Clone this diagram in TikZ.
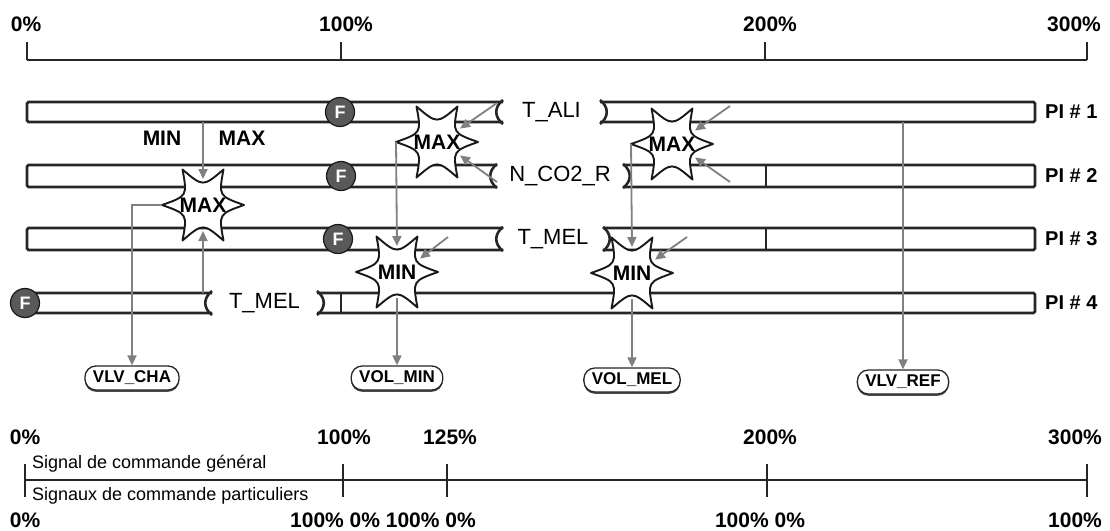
\documentclass[tikz,border=0pt]{standalone}
\usepackage{fontspec}
\setmainfont{Liberation Sans}
\usetikzlibrary{arrows.meta,calc,shadows}
\newcommand{\fsz}[1]{\fontsize{#1}{#1}\selectfont}
\newcommand{\sixstar}[4]{%
  \begin{scope}[shift={(#2,#3)}]
    \draw[starline] (41,0) .. controls (15.6,-9) .. (20.5,-35.5)
      .. controls (0,-18) .. (-20.5,-35.5)
      .. controls (-15.6,-9) .. (-41,0)
      .. controls (-15.6,9) .. (-20.5,35.5)
      .. controls (0,18) .. (20.5,35.5)
      .. controls (15.6,9) .. (41,0) -- cycle;
    \node[startxt] (#1) at (0,0) {#4};
    \coordinate (#1-t) at (0,-26);
    \coordinate (#1-b) at (0,26);
    \coordinate (#1-l) at (-41,0);
    \coordinate (#1-ur) at (23,-13.4);
    \coordinate (#1-lr) at (23,13.4);
  \end{scope}}
\newcommand{\siglabel}[5]{%
  \node[siglbl] (#1) at ({(#2+#3)/2},#4) {#5};
  \draw[barline] (#2,#4-12) .. controls (#2-9,#4-5) and (#2-9,#4+5) .. (#2,#4+12);
  \draw[barline] (#3,#4-12) .. controls (#3+9,#4-5) and (#3+9,#4+5) .. (#3,#4+12);}
\begin{document}
\begin{tikzpicture}[x=1pt,y=-1pt,
  barline/.style={draw=black!85,line width=2.6pt,rounded corners=1.5pt},
  scaleline/.style={draw=black!85,line width=2.2pt},
  starline/.style={draw=black!90,line width=1.9pt,fill=white,line join=round},
  startxt/.style={font=\bfseries\fsz{21},inner sep=0pt},
  siglbl/.style={font=\fsz{22},inner sep=0pt},
  fcirc/.style={circle,fill=black!65,draw=black!90,line width=1.2pt,minimum size=29pt,inner sep=0pt,text=white,font=\bfseries\fsz{18}},
  sigarrow/.style={draw=black!50,line width=1.8pt,-{Triangle[length=10pt,width=9pt]}},
  outlbl/.style={draw=black!85,line width=1.3pt,rounded corners=11pt,font=\bfseries\fsz{17},minimum height=24pt,inner xsep=8pt,inner ysep=0pt,fill=white,drop shadow={shadow xshift=0pt,shadow yshift=-1.8pt,fill=black!70,opacity=1}},
  pct/.style={font=\bfseries\fsz{21},inner sep=0pt},
  pilbl/.style={font=\bfseries\fsz{20},inner sep=0pt,anchor=west},
  small/.style={font=\fsz{18},inner sep=0pt,anchor=west}]
\useasboundingbox (0,0) rectangle (1110,530);

% ---------- top scale ----------
\node[pct] (t0) at (26,24) {0\%};
\node[pct] (t100) at (346,24) {100\%};
\node[pct] (t200) at (770,24) {200\%};
\node[pct] (t300) at (1074,24) {300\%};
\draw[scaleline] (27,60) -- (1087,60);
\foreach \x in {27,341,765,1087} \draw[scaleline] (\x,42) -- (\x,60);

% ---------- bars ----------
% PI 1
\draw[barline] (503,102) -- (27,102) -- (27,122) -- (503,122);
\draw[barline] (600,102) -- (1035,102) -- (1035,122) -- (600,122);
\siglabel{tali}{503}{600}{112}{T\_ALI}
% PI 2
\draw[barline] (497,165) -- (27,165) -- (27,187) -- (497,187);
\draw[barline] (623,165) -- (1035,165) -- (1035,187) -- (623,187);
\draw[barline] (766,165) -- (766,187);
\siglabel{nco2}{497}{623}{176}{N\_CO2\_R}
% PI 3
\draw[barline] (503,228) -- (27,228) -- (27,250) -- (503,250);
\draw[barline] (603,228) -- (1035,228) -- (1035,250) -- (603,250);
\draw[barline] (766,228) -- (766,250);
\siglabel{tmelc}{503}{603}{239}{T\_MEL}
% PI 4
\draw[barline] (212,293) -- (27,293) -- (27,313) -- (212,313);
\draw[barline] (317,293) -- (1035,293) -- (1035,313) -- (317,313);
\draw[barline] (341,293) -- (341,313);
\siglabel{tmeld}{212}{317}{303}{T\_MEL}

\node[pilbl] (pi1) at (1045,112) {PI \# 1};
\node[pilbl] (pi2) at (1045,176) {PI \# 2};
\node[pilbl] (pi3) at (1045,239) {PI \# 3};
\node[pilbl] (pi4) at (1045,303) {PI \# 4};

\node[fcirc] (f1) at (340,112) {F};
\node[fcirc] (f2) at (341,176) {F};
\node[fcirc] (f3) at (338,239) {F};
\node[fcirc] (f4) at (25,303) {F};

% ---------- output labels ----------
\node[outlbl] (vlvcha) at (132,378) {VLV\_CHA};
\node[outlbl] (volmin) at (397,378) {VOL\_MIN};
\node[outlbl] (volmel) at (632,380) {VOL\_MEL};
\node[outlbl] (vlvref) at (903,382) {VLV\_REF};

% ---------- connector under stars ----------
\coordinate (p1b) at (903,122);
\draw[sigarrow] (p1b) -- (vlvref.north);

% ---------- stars ----------
\sixstar{max1}{203}{205}{MAX}
\sixstar{max2}{437}{142}{MAX}
\sixstar{max3}{672}{144}{MAX}
\sixstar{min1}{397}{272}{MIN}
\sixstar{min2}{632}{273}{MIN}

\node[startxt] (lmin) at (162,138) {MIN};
\node[startxt] (lmax) at (242,138) {MAX};

% ---------- connectors ----------
\coordinate (p1a) at (203,122);
\coordinate (p4a) at (203,293);
\draw[sigarrow] (p1a) -- (max1-t);
\draw[sigarrow] (p4a) -- (max1-b);
\draw[sigarrow] (max1-l) -| (vlvcha.north);
\draw[sigarrow] (max2-l) -- (min1-t);
\draw[sigarrow] (min1-b) -- (volmin.north);
\draw[sigarrow] (max3-l) -- (min2-t);
\draw[sigarrow] (min2-b) -- (volmel.north);

\coordinate (a1) at (497,103);
\coordinate (a2) at (497,182);
\coordinate (a3) at (730,106);
\coordinate (a4) at (730,182);
\coordinate (a5) at (448,237);
\coordinate (a6) at (687,237);
\draw[sigarrow] (a1) -- (max2-ur);
\draw[sigarrow] (a2) -- (max2-lr);
\draw[sigarrow] (a3) -- (max3-ur);
\draw[sigarrow] (a4) -- (max3-lr);
\draw[sigarrow] (a5) -- (min1-ur);
\draw[sigarrow] (a6) -- (min2-ur);

% ---------- bottom scale ----------
\node[pct] (b0) at (25,437) {0\%};
\node[pct] (b100) at (344,437) {100\%};
\node[pct] (b125) at (450,437) {125\%};
\node[pct] (b200) at (770,437) {200\%};
\node[pct] (b300) at (1075,437) {300\%};
\draw[scaleline] (25,480) -- (1087,480);
\foreach \x in {25,343,447,767,1087} \draw[scaleline] (\x,464) -- (\x,497);
\node[small] (sg) at (32,464) {Signal de commande général};
\node[small] (sp) at (32,496) {Signaux de commande particuliers};
\node[pct] (c0) at (25,520) {0\%};
\node[pct] (c1) at (383,520) {100\% 0\% 100\% 0\%};
\node[pct] (c2) at (760,520) {100\% 0\%};
\node[pct] (c3) at (1075,520) {100\%};
\end{tikzpicture}
\end{document}
